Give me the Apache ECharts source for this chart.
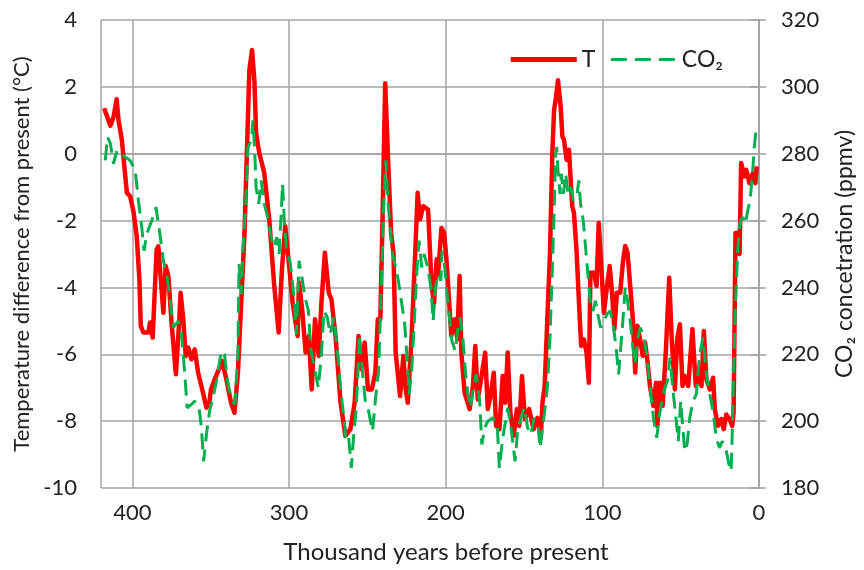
<!DOCTYPE html>
<html>
<head>
<meta charset="utf-8">
<script src="https://cdn.jsdelivr.net/npm/echarts@6/dist/echarts.min.js"></script>
<style>
  html, body { margin: 0; padding: 0; background: #fff; }
  #chart { width: 864px; height: 570px; }
</style>
</head>
<body>
<div id="chart"></div>
<script>
// temperature record (thousand years before present, °C vs present)
var tAge = [418, 414, 412, 410, 408.8, 406.7, 403.5, 401.4, 399.3, 397.2, 395.5, 394.6, 393, 389.8, 388.7, 387,
  384.5, 383.4, 380.2, 378.7, 377, 374.9, 372.2, 370, 369.2, 367.5, 365.9, 364.3, 362.3, 360.2, 358, 355.9,
  352.7, 350.7, 349.8, 346.6, 342.6, 340, 337, 334.8, 332.6, 330.5, 328.4, 326.9, 325.3, 323.6, 322.1, 321,
  319, 315.8, 312.6, 309.4, 306.6, 304.5, 302.4, 300.3, 297.7, 294.5, 293.6, 291.5, 289.4, 287.3, 285.5, 283.4,
  281, 279.3, 277.1, 274.6, 272.9, 270.3, 267.1, 264, 260.8, 258.1, 255.6, 253.8, 251.7, 249.6, 247.1, 244.9,
  243.3, 241.7, 240.3, 238.6, 237.5, 236.5, 234.8, 233.3, 231.9, 229.1, 227, 225.5, 224.2, 221.7, 219.6, 217.9,
  216.4, 214.3, 211.2, 209, 207.4, 205.8, 204.8, 202.7, 201, 199.5, 198, 196.4, 194.2, 192.6, 191.1, 190,
  187.9, 184.7, 182.6, 181.1, 179.5, 177.4, 174.8, 173.1, 171.4, 169.3, 167.8, 165.7, 163.6, 162, 160.4, 158.7,
  156.6, 154.5, 153, 151.3, 149.4, 146.7, 143.9, 141.4, 139.3, 138.2, 136.8, 135.1, 133.4, 131.9, 130.8, 129.8,
  128.3, 126.6, 125.5, 124.5, 122.8, 121.3, 120.2, 119.2, 118.1, 116.4, 115, 113.5, 111.8, 110.1, 108.6, 107.6,
  105.4, 103.7, 102.3, 100.8, 99, 97, 95.3, 93.8, 92.3, 90.7, 88.6, 86.9, 85.4, 83.9, 82.2, 80.5,
  79, 77.6, 75.9, 74.2, 72.7, 71.2, 69.6, 67.4, 65.7, 64.9, 63.2, 61.5, 59.4, 57.3, 55.8, 53.7,
  52.2, 50.5, 48.8, 47.4, 45.2, 42.5, 40.3, 38.2, 36.7, 35.2, 33.6, 31.4, 29.3, 28.2, 26.2, 24.1,
  22.5, 20.9, 18.8, 17.1, 16.2, 15, 13.5, 12.4, 11.4, 9.3, 8.2, 6.1, 4, 2.3, 1.5];
var tTemp = [1.36, 0.84, 1.1, 1.63, 1.0, 0.42, -1.17, -1.27, -1.72, -2.47, -3.76, -5.15, -5.35, -5.35, -5.05, -5.5,
  -2.87, -2.77, -4.76, -3.36, -3.66, -5.1, -6.6, -4.95, -4.16, -4.95, -6.05, -5.8, -6.15, -5.85, -6.55, -6.95,
  -7.6, -7.4, -7.05, -6.65, -6.2, -6.75, -7.45, -7.75, -6.55, -4.45, -2.37, 0.02, 2.5, 3.1, 2.2, 0.62,
  0.03, -0.57, -1.97, -3.96, -5.35, -3.46, -2.17, -3.16, -4.45, -5.45, -3.85, -4.7, -5.95, -5.45, -7.05, -4.95,
  -6.05, -4.46, -2.96, -4.16, -4.36, -5.45, -7.45, -8.44, -8.24, -7.45, -5.45, -6.45, -5.65, -7.05, -7.05, -6.55,
  -4.95, -4.95, -1.97, 2.11, 2.11, -0.48, -2.37, -2.96, -5.95, -7.25, -6.05, -7.05, -7.45, -5.45, -3.16, -1.17,
  -1.97, -1.57, -1.67, -3.96, -4.46, -3.16, -3.6, -2.22, -2.37, -3.16, -4.26, -5.45, -4.95, -5.55, -3.66, -5.95,
  -7.15, -7.64, -6.95, -5.75, -7.35, -6.75, -5.95, -7.64, -7.25, -6.55, -8.14, -8.24, -6.65, -7.45, -5.95, -7.74,
  -8.44, -7.64, -8.14, -6.65, -7.94, -7.64, -8.24, -7.9, -8.5, -7.45, -6.95, -4.95, -2.96, 0.02, 1.31, 1.6,
  2.2, 1.41, 0.52, 0.42, -0.18, 0.12, -0.78, -1.57, -1.77, -2.96, -4.36, -5.75, -5.55, -5.95, -6.85, -3.56,
  -3.56, -3.96, -2.07, -3.26, -4.76, -3.96, -3.36, -4.16, -5.25, -4.16, -4.16, -3.26, -2.76, -2.96, -3.96, -4.95,
  -6.55, -5.15, -5.55, -6.05, -5.65, -6.2, -6.95, -7.54, -6.85, -8.14, -6.85, -7.54, -5.85, -3.71, -5.45, -7.05,
  -5.55, -5.1, -6.95, -6.65, -6.95, -5.25, -6.95, -6.45, -6.95, -5.3, -6.75, -7.05, -6.7, -7.64, -8.14, -7.94,
  -8.24, -7.8, -7.94, -8.14, -7.74, -2.37, -2.37, -3.0, -0.28, -0.68, -0.48, -0.88, -0.58, -0.88, -0.38];

// CO2 record (thousand years before present, ppmv)
var co2Age = [417.3, 415.8, 414, 412, 409.8, 407.7, 401.4, 398.2, 396.1, 394, 392.5, 390.8, 387.6, 384.9, 382.4, 380.2,
  378.1, 376, 373.9, 370.7, 368.6, 366.5, 365, 362.3, 360.2, 357.4, 355.9, 354.5, 352.7, 350.7, 348.5, 346.3,
  343.2, 341.2, 339, 336.2, 334.5, 332.6, 331.9, 330.4, 329.3, 327.6, 326.2, 324, 323, 322, 321, 319.3,
  317.8, 315.8, 313.6, 311.5, 309.4, 307.9, 306.3, 305.2, 304.1, 303, 301.6, 299.4, 296.8, 295.2, 293.6, 291.4,
  289.8, 287.6, 286.2, 283.4, 281.3, 279.3, 277.7, 275.5, 273.7, 271.4, 269.3, 267.1, 265, 263.5, 261.9, 260.2,
  258.7, 257.2, 256, 255.1, 253.4, 251.3, 249.2, 246.7, 244.5, 242.8, 241.1, 239.6, 238.2, 236.9, 235.4, 233.9,
  231.8, 230.2, 228, 226.3, 224.8, 223.3, 221.7, 220, 218.5, 217, 215.3, 213.7, 211.5, 209.4, 208, 206.5,
  204.8, 203.1, 202.3, 200.6, 198.9, 197.4, 196, 193.9, 192.1, 190.6, 188.9, 187.4, 185.8, 184.1, 182.6, 180.5,
  178.3, 176.9, 175.1, 173.1, 169.9, 167.1, 165.7, 163.6, 161.4, 160.4, 158.3, 155.7, 154.1, 152, 149.8, 147.7,
  145.6, 143.5, 140.9, 139.7, 138.2, 136.8, 135.1, 133.4, 131.9, 130.8, 129.8, 129.1, 128.3, 127, 126.2, 124.9,
  123.4, 121.9, 120.2, 118.6, 116.4, 115, 113.9, 112.2, 110.7, 109.2, 107.6, 105.9, 104.4, 102.9, 101.1, 99,
  97, 94.9, 92.8, 91, 89.6, 88.6, 86.9, 85.4, 83.9, 82.2, 80.5, 79, 77.6, 75.9, 73.8, 71.7,
  69.6, 67.4, 65.3, 63.2, 60.6, 58.5, 56.8, 55.1, 53, 51.5, 50, 48.8, 47.4, 45.9, 44.2, 42.1,
  40, 37.9, 35.7, 33.6, 31.4, 29.3, 27.3, 25.2, 23.5, 21.3, 19.1, 17.8, 17.1, 16.2, 15, 13.5,
  12, 10.3, 8.7, 7.2, 5.7, 4, 3, 1.9];
var co2Ppm = [278, 285, 283, 277, 281, 280, 278, 275, 266, 258, 251, 256, 260, 264, 256, 248,
  244, 237, 228, 230, 226, 214, 204, 205, 206, 204, 198, 188, 196, 203, 207, 212,
  221, 220, 211, 206, 205, 220, 247, 238, 252, 265, 282, 284, 290, 282, 270, 265,
  272, 265, 261, 255, 252, 255, 250, 260, 271, 260, 251, 248, 237, 226, 248, 242,
  237, 233, 222, 215, 210, 220, 233, 231, 226, 231, 222, 210, 201, 194, 195, 186,
  196, 203, 214, 226, 216, 206, 203, 197, 208, 215, 240, 264, 278, 266, 258, 250,
  246, 242, 235, 230, 220, 208, 215, 230, 244, 254, 246, 250, 246, 240, 230, 240,
  244, 242, 251, 246, 237, 230, 224, 221, 228, 231, 224, 215, 208, 204, 210, 214,
  206, 193, 198, 200, 201, 199, 186, 195, 201, 204, 198, 188, 197, 201, 204, 198,
  196, 201, 198, 192, 198, 203, 210, 225, 246, 262, 280, 282, 275, 268, 274, 268,
  274, 268, 270, 266, 267, 272, 265, 260, 252, 244, 235, 233, 236, 232, 228, 230,
  232, 233, 228, 221, 214, 220, 230, 240, 236, 230, 222, 217, 224, 228, 226, 220,
  211, 201, 195, 203, 209, 212, 219, 210, 201, 194, 206, 206, 191, 193, 201, 206,
  208, 220, 225, 214, 208, 203, 195, 192, 194, 192, 187, 185, 196, 215, 235, 252,
  260, 261, 259, 263, 266, 275, 282, 287];

var font = 'Lato, "DejaVu Sans", sans-serif';
var gridColor = '#a3a3a3';
var textColor = '#222';

function pairs(xs, ys) {
  return xs.map(function (x, i) { return [x, ys[i]]; });
}

var chart = echarts.init(document.getElementById('chart'));
chart.setOption({
  backgroundColor: '#fff',
  animation: false,
  grid: { left: 101, right: 101, top: 20, bottom: 82 },
  legend: {
    right: 136,
    top: 43,
    itemWidth: 66,
    itemHeight: 14,
    itemGap: 14,
    itemStyle: { opacity: 0 },
    textStyle: { fontFamily: font, fontSize: 23, color: textColor },
    data: [
      { name: 'T', lineStyle: { width: 5 } },
      { name: 'CO₂', lineStyle: { width: 3 } }
    ]
  },
  xAxis: {
    type: 'value',
    inverse: true,
    min: 0,
    max: 420,
    interval: 100,
    name: 'Thousand years before present',
    nameLocation: 'middle',
    nameGap: 52,
    nameTextStyle: { fontFamily: font, fontSize: 24, color: textColor, padding: [0, 0, 0, 32] },
    axisLine: { lineStyle: { color: gridColor, width: 1.5 } },
    axisTick: { show: false },
    axisLabel: {
      margin: 14,
      fontFamily: font, fontSize: 22, color: textColor,
      formatter: function (v) { return v % 100 === 0 ? v : ''; }
    },
    splitLine: { show: true, lineStyle: { color: gridColor, width: 1.5 } }
  },
  yAxis: [{
    type: 'value',
    min: -10,
    max: 4,
    interval: 2,
    name: 'Temperature difference from present (°C)',
    nameLocation: 'middle',
    nameRotate: 90,
    nameGap: 68,
    nameTextStyle: { fontFamily: font, fontSize: 22, color: textColor },
    axisLine: { show: true, lineStyle: { color: gridColor, width: 1.5 } },
    axisTick: { show: true, length: 9, lineStyle: { color: gridColor, width: 1.5 } },
    axisLabel: { margin: 24, fontFamily: font, fontSize: 22, color: textColor },
    splitLine: { show: true, lineStyle: { color: gridColor, width: 1.5 } }
  }, {
    type: 'value',
    position: 'right',
    min: 180,
    max: 320,
    interval: 20,
    name: 'CO₂ concetration (ppmv)',
    nameLocation: 'middle',
    nameRotate: 90,
    nameGap: 74,
    nameTextStyle: { fontFamily: font, fontSize: 23, color: textColor },
    axisLine: { show: true, lineStyle: { color: gridColor, width: 1.5 } },
    axisTick: { show: true, length: 7, lineStyle: { color: gridColor, width: 1.5 } },
    axisLabel: { margin: 22, fontFamily: font, fontSize: 22, color: textColor },
    splitLine: { show: false }
  }],
  series: [{
    name: 'T',
    type: 'line',
    yAxisIndex: 0,
    symbol: 'none',
    data: pairs(tAge, tTemp),
    lineStyle: { color: '#ff0000', width: 4.5, join: 'round' },
    itemStyle: { color: '#ff0000' }
  }, {
    name: 'CO₂',
    type: 'line',
    yAxisIndex: 1,
    symbol: 'none',
    data: pairs(co2Age, co2Ppm),
    lineStyle: { color: '#00b050', width: 3, type: [16, 8] },
    itemStyle: { color: '#00b050' }
  }]
});
</script>
</body>
</html>
